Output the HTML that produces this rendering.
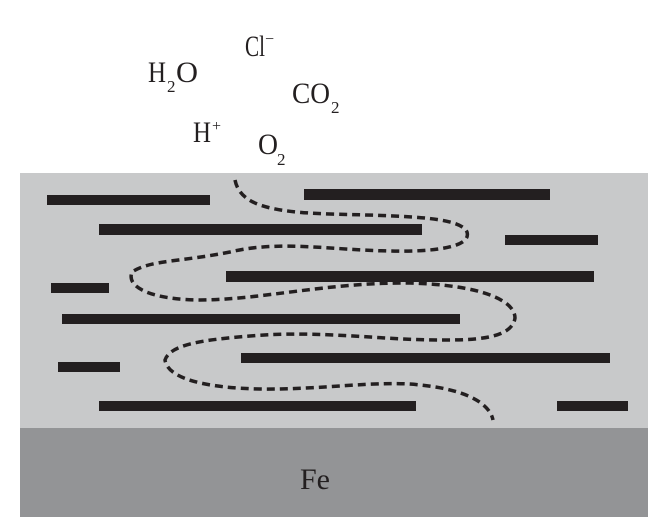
<!DOCTYPE html>
<html><head><style>html,body{margin:0;padding:0;background:#fff}svg{display:block}</style></head>
<body>
<svg width="667" height="528" viewBox="0 0 667 528" xmlns="http://www.w3.org/2000/svg">
<rect x="20" y="173" width="628" height="255" fill="#c8c9ca"/>
<rect x="20" y="428" width="628" height="89" fill="#939496"/>
<g fill="#231f20">
<rect x="47" y="195" width="163" height="10"/>
<rect x="304" y="189" width="246" height="11"/>
<rect x="99" y="224" width="323" height="11"/>
<rect x="505" y="235" width="93" height="10"/>
<rect x="226" y="271" width="368" height="11"/>
<rect x="51" y="283" width="58" height="10"/>
<rect x="62" y="314" width="398" height="10"/>
<rect x="241" y="353" width="369" height="10"/>
<rect x="58" y="362" width="62" height="10"/>
<rect x="99" y="401" width="317" height="10"/>
<rect x="557" y="401" width="71" height="10"/>
</g>
<path d="M235 180 C240 205 270 212 330 214 C400 216 460 216 467 232 C472 248 430 252 390 251 C330 250 280 240 230 252 C180 262 150 260 132 272 C125 290 160 300 200 300 C260 300 330 282 410 283 C480 285 515 300 515 318 C512 340 470 340 440 340 C380 340 320 330 250 336 C200 340 170 345 165 360 C168 380 210 388 260 389 C320 390 380 380 420 385 C470 390 490 405 493 420" fill="none" stroke="#231f20" stroke-width="3.5" stroke-dasharray="8,5"/>
<g font-family="Liberation Serif, serif" fill="#231f20" font-size="30">
<text x="245" y="56" textLength="20" lengthAdjust="spacingAndGlyphs">Cl</text>
<text x="265" y="44" font-size="16">−</text>
<text x="148" y="82" textLength="18" lengthAdjust="spacingAndGlyphs">H</text><text x="167" y="92" font-size="17">2</text><text x="176" y="82" textLength="22" lengthAdjust="spacingAndGlyphs">O</text>
<text x="292" y="103" textLength="38" lengthAdjust="spacingAndGlyphs">CO</text><text x="331" y="113" font-size="17">2</text>
<text x="193" y="142" textLength="18" lengthAdjust="spacingAndGlyphs">H</text><text x="212" y="131" font-size="16">+</text>
<text x="258" y="154" textLength="20" lengthAdjust="spacingAndGlyphs">O</text><text x="277" y="165" font-size="17">2</text>
<text x="300" y="489" textLength="30" lengthAdjust="spacingAndGlyphs">Fe</text>
</g>
</svg>
</body></html>
